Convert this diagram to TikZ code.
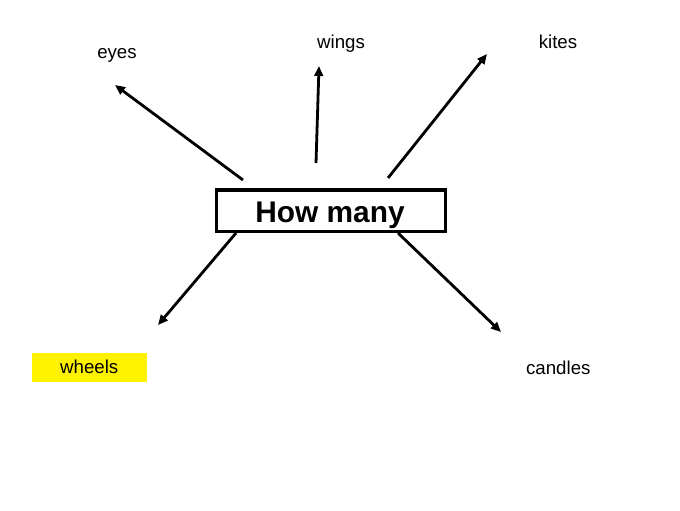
\documentclass[tikz,border=0pt]{standalone}
\usepackage{fontspec}
\setmainfont{Liberation Sans}
\usetikzlibrary{arrows.meta}
\begin{document}
\begin{tikzpicture}[x=0.75pt,y=-0.75pt,
  lbl/.style={font=\fontsize{14}{16}\selectfont, inner sep=0pt, anchor=base},
  conn/.style={line width=2.1pt, -{Triangle[length=7.5pt,width=6.5pt]}}]
\useasboundingbox (0,0) rectangle (680,510);
\node[draw, line width=2.3pt, minimum width=229*0.75pt, minimum height=41.7*0.75pt, inner sep=0pt] (hub) at (331.2,210.85) {};
\node[font=\fontsize{22.4}{26}\selectfont\bfseries, inner sep=0pt, anchor=base] (hubtext) at (330,222) {How many};
\node[lbl] (eyes) at (117,58.7) {eyes};
\node[lbl] (wings) at (341,48.3) {wings};
\node[lbl] (kites) at (558,48.3) {kites};
\node[fill=yellow, minimum width=114.4*0.75pt, minimum height=28.4*0.75pt, inner sep=0pt] (wheelsbox) at (89.5,367.5) {};
\node[lbl] (wheels) at (89.2,373.3) {wheels};
\node[lbl] (candles) at (558.3,374) {candles};
\coordinate (s1) at (243,180); \coordinate (e1) at (115,85);
\coordinate (s2) at (316,163); \coordinate (e2) at (319,66);
\coordinate (s3) at (388,178); \coordinate (e3) at (487,54);
\coordinate (s4) at (236,233); \coordinate (e4) at (158,325);
\coordinate (s5) at (398,233); \coordinate (e5) at (501,332);
\draw[conn] (s1) -- (e1);
\draw[conn] (s2) -- (e2);
\draw[conn] (s3) -- (e3);
\draw[conn] (s4) -- (e4);
\draw[conn] (s5) -- (e5);
\end{tikzpicture}
\end{document}
